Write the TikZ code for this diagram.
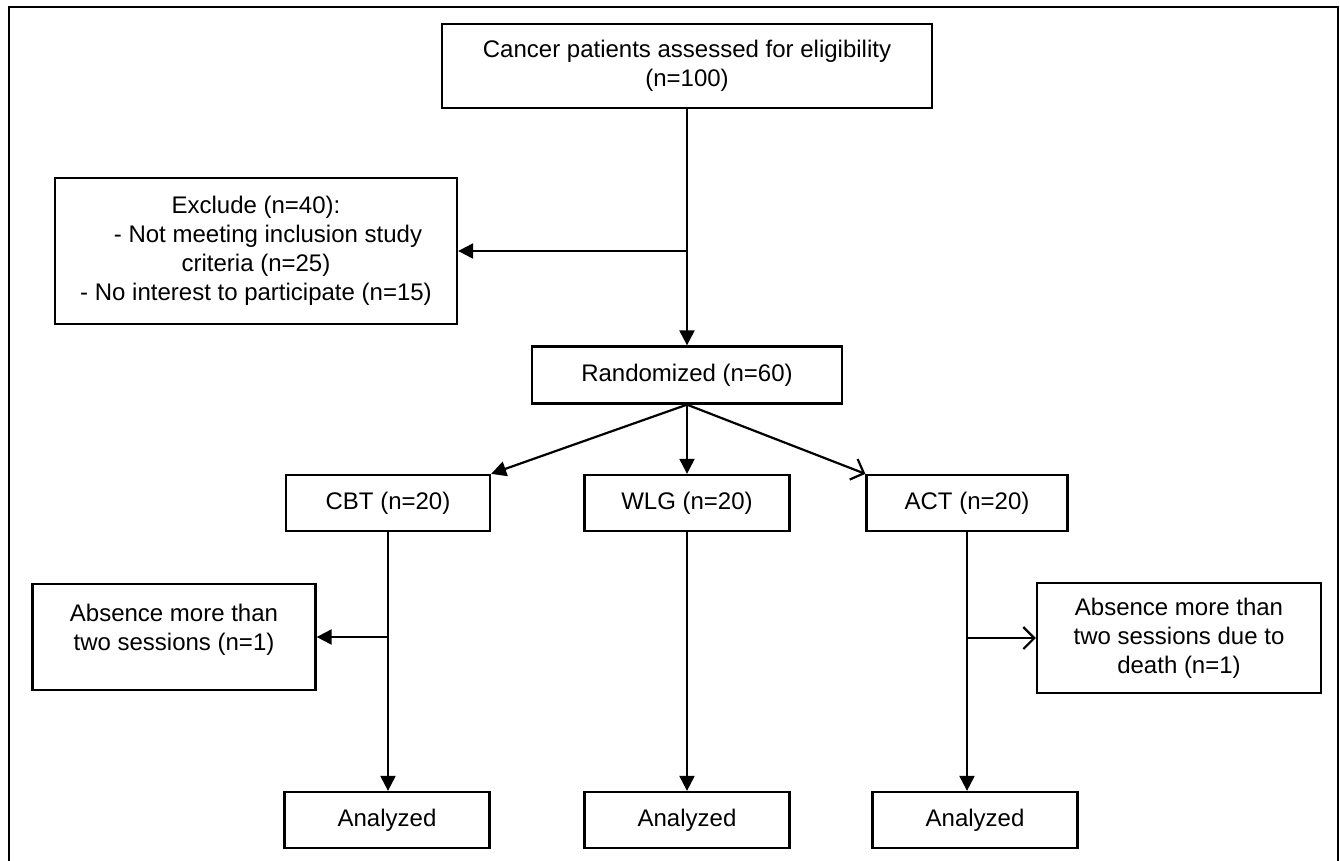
\documentclass[tikz,border=0pt]{standalone}
\usepackage{fontspec}
\setmainfont{Liberation Sans}
\usetikzlibrary{arrows.meta}

\tikzset{
	box/.style={draw, line width=2.3pt, align=center, inner sep=0pt, font=\fontsize{24}{29}\selectfont},
	arr/.style={line width=2.2pt, -{Triangle[length=15pt,width=15pt]}},
	openarr/.style={line width=2.2pt, -{Straight Barb[length=11pt,width=22pt,line width=2.2pt]}}
}

\begin{document}
\begin{tikzpicture}[x=1pt,y=-1pt]
	\useasboundingbox (0,0) rectangle (1340,860);
	% outer frame
	\draw[line width=2.6pt] (9,862) -- (9,7) -- (1338,7) -- (1338,862);

	\node[box, minimum width=490, minimum height=84] (top) at (687,66) {Cancer patients assessed for eligibility\\(n=100)};
	\node[box, minimum width=402, minimum height=146] (excl) at (256,251) {Exclude (n=40):\\\hspace*{1em}- Not meeting inclusion study\\criteria (n=25)\\- No interest to participate (n=15)};
	\node[box, minimum width=310, minimum height=57] (rand) at (687,375) {Randomized (n=60)};

	\node[box, minimum width=204, minimum height=56] (cbt) at (388,503) {CBT (n=20)};
	\node[box, minimum width=205, minimum height=56] (wlg) at (687,503) {WLG (n=20)};
	\node[box, minimum width=201, minimum height=56] (act) at (967,503) {ACT (n=20)};

	\node[box, minimum width=283, minimum height=106] (absl) at (174,637) {Absence more than\\two sessions (n=1)\\[-10pt]\mbox{}};
	\node[box, minimum width=284, minimum height=110] (absr) at (1179,638) {Absence more than\\two sessions due to\\death (n=1)};

	\node[box, minimum width=205, minimum height=56] (ana1) at (387,820) {Analyzed};
	\node[box, minimum width=205, minimum height=56] (ana2) at (687,820) {Analyzed};
	\node[box, minimum width=205, minimum height=56] (ana3) at (975,820) {Analyzed};

	% arrows
	\draw[arr] (top.south) -- (rand.north);
	\draw[arr] (top.south |- excl.east) -- (excl.east);
	\draw[arr] (rand.south) -- (cbt.north east);
	\draw[arr] (rand.south) -- (wlg.north);
	\draw[openarr] (rand.south) -- (act.north west);

	\draw[arr] (cbt.south) -- (cbt.south |- ana1.north);
	\draw[arr] (cbt.south |- absl.east) -- (absl.east);
	\draw[arr] (wlg.south) -- (ana2.north);
	\draw[arr] (act.south) -- (act.south |- ana3.north);
	\draw[openarr] (act.south |- absr.west) -- (absr.west);
\end{tikzpicture}
\end{document}
